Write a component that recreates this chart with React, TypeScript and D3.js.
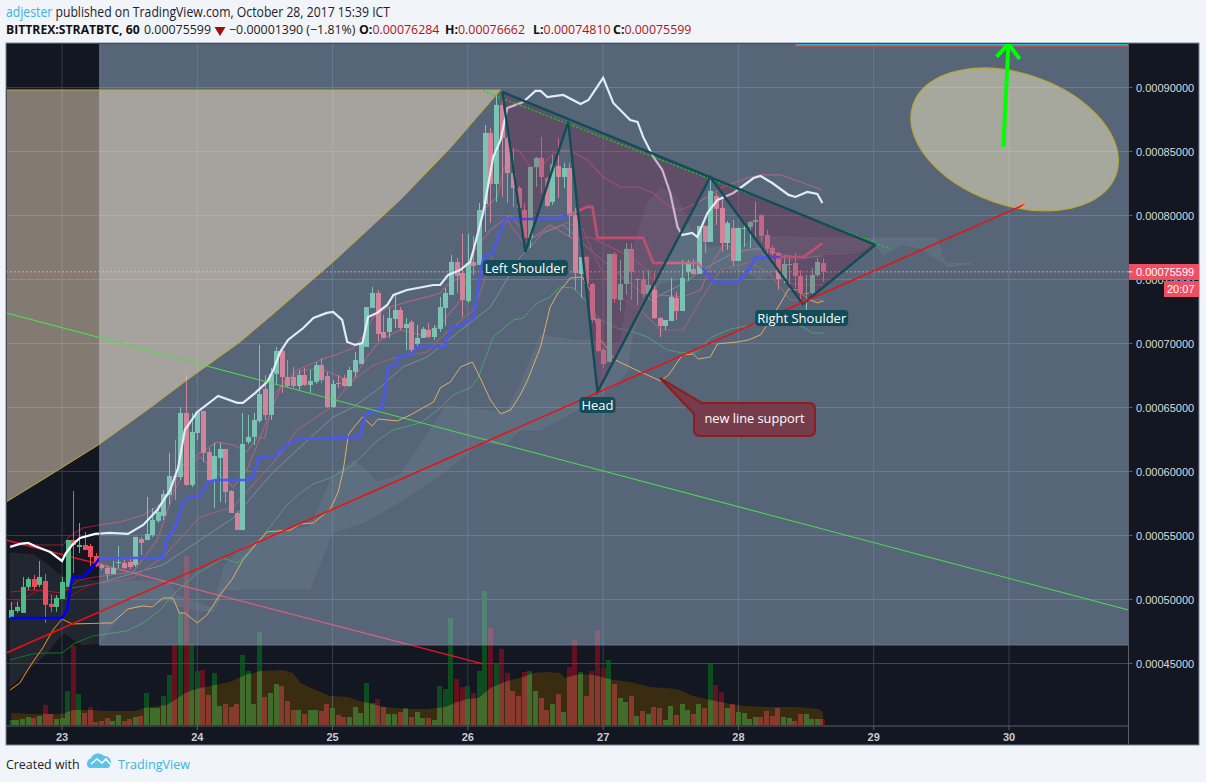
import React from "react";
import * as d3 from "d3";

// Prices are in units of 0.00001 BTC. Hours are counted from the "23" day tick.
const firstHour = -9;
const opens = [
  48.56,49.10,48.95,50.98,51.60,51.14,51.45,49.66,49.42,
  50.04,50.98,54.65,54.10,54.26,54.18,53.40,52.70,52.46,51.99,
  52.86,52.86,52.93,52.70,54.73,54.65,55.04,56.14,56.53,58.16,
  59.65,59.57,64.57,58.95,63.01,64.73,61.53,59.34,61.06,61.76,
  58.48,56.76,55.43,62.31,62.70,63.95,66.45,64.42,67.62,69.42,
  67.38,67.38,66.68,67.54,66.76,67.00,68.32,67.46,65.04,66.92,
  67.31,66.68,67.78,68.40,69.73,72.78,73.95,70.90,70.90,71.92,
  72.62,71.21,71.68,69.97,70.43,71.06,70.51,71.14,72.78,73.79,
  76.37,75.51,73.32,76.37,76.14,80.90,86.45,82.46,88.64,86.06,
  83.32,82.15,80.43,78.25,83.79,84.50,82.93,81.06,83.87,83.01,
  83.71,80.04,75.43,76.76,74.65,71.92,69.50,68.56,77.00,73.40,
  74.65,77.39,74.97,75.04,73.87,74.18,71.99,71.37,71.76,73.56,
  72.54,75.59,75.82,75.43,79.18,77.93,81.53,80.59,77.85,79.03,
  76.45,78.95,79.10,79.50,80.04,78.48,77.46,77.07,75.04,76.14,
  76.29,75.28,73.87,73.95,75.35,76.28,
];
const highs = [
  49.81,49.81,51.76,51.76,51.92,53.01,52.00,50.36,50.36,
  51.76,54.65,58.48,55.98,55.28,54.34,53.63,52.86,52.62,53.01,
  54.18,53.09,53.24,54.89,54.89,58.01,57.15,57.39,58.55,61.45,
  62.46,65.04,67.54,64.57,64.65,64.73,61.84,62.23,62.23,61.76,
  58.55,56.92,64.57,64.42,64.57,69.89,67.54,68.09,69.73,69.65,
  68.71,68.17,67.93,68.09,67.93,68.56,68.87,67.78,67.15,67.54,
  67.54,68.17,69.34,70.04,72.85,74.42,74.18,72.23,72.85,73.95,
  72.85,71.99,71.84,71.45,71.29,71.60,71.45,73.64,74.34,76.92,
  76.68,78.56,78.56,78.40,80.98,87.07,86.85,89.42,89.03,86.29,
  85.28,82.31,80.98,83.79,84.57,86.14,83.01,84.73,86.06,84.10,
  84.10,80.59,76.76,76.84,74.73,71.99,69.65,77.00,77.15,76.53,
  77.85,77.85,75.12,75.74,75.74,75.51,72.07,71.84,75.12,74.03,
  76.53,76.53,76.60,79.18,79.26,82.78,81.76,81.61,79.57,79.65,
  79.03,79.50,79.57,81.06,80.12,78.87,77.70,77.15,76.92,76.84,
  77.07,75.74,75.35,75.90,76.68,76.66,
];
const lows = [
  48.48,48.95,48.95,50.75,50.75,50.98,48.17,49.03,49.03,
  50.04,50.98,52.07,53.63,53.87,52.62,52.54,52.31,51.53,51.99,
  52.46,52.38,52.38,52.54,53.48,54.65,54.89,55.98,56.22,57.39,
  57.78,59.34,58.87,58.79,62.46,60.74,59.18,57.15,57.62,57.54,
  56.76,55.43,55.43,62.15,62.07,63.79,64.03,64.03,66.76,66.14,
  66.53,66.53,66.37,66.68,66.14,66.84,66.92,64.96,64.96,66.53,
  66.61,66.61,67.38,68.40,69.73,72.78,70.20,70.43,70.43,71.21,
  71.06,69.50,69.34,69.73,70.43,70.43,70.28,70.90,71.37,73.79,
  73.95,72.07,73.17,75.35,76.14,78.71,79.42,81.06,81.45,80.98,
  80.67,80.43,78.09,77.46,82.23,81.76,80.67,80.82,81.37,82.15,
  78.32,74.18,73.56,74.57,71.68,69.34,68.09,68.56,73.17,72.54,
  73.79,73.40,73.01,73.56,73.56,71.92,70.51,71.06,71.76,71.84,
  72.54,74.89,75.35,75.43,77.07,77.93,79.26,77.15,77.31,76.06,
  76.45,77.54,77.46,78.09,77.93,76.92,76.14,74.18,74.73,74.57,
  74.34,73.17,72.62,73.87,75.20,74.81,
];
const closes = [
  49.18,49.42,50.98,51.60,50.98,51.76,49.58,49.42,50.12,
  51.37,54.65,54.26,54.26,53.87,53.32,52.62,52.46,51.99,52.46,
  52.93,52.46,52.54,54.89,54.42,55.12,56.22,56.84,58.24,59.65,
  59.57,64.57,58.95,63.09,64.65,61.45,59.34,61.21,61.76,58.40,
  56.76,55.43,62.15,62.70,64.03,66.05,64.42,67.62,69.42,67.38,
  66.68,66.68,67.54,66.76,67.07,68.32,67.15,65.04,66.84,66.84,
  66.68,67.93,68.71,70.04,72.85,73.95,70.75,70.43,71.99,72.62,
  71.21,71.53,69.50,70.43,71.14,70.51,71.21,72.85,73.95,76.37,
  75.28,73.40,76.29,76.06,80.43,86.45,82.46,88.64,86.06,83.32,
  82.15,80.59,78.25,83.79,84.50,83.01,80.75,84.03,83.01,83.71,
  79.96,75.51,76.76,74.65,71.84,69.42,68.40,77.00,73.48,74.65,
  77.39,75.59,75.04,73.87,74.57,71.99,71.37,71.84,73.64,72.54,
  75.12,76.37,75.43,79.18,77.93,81.92,80.51,77.85,79.42,76.45,
  79.03,79.03,79.50,79.65,78.40,77.39,77.00,75.04,76.21,76.21,
  75.28,73.95,73.95,75.35,76.37,75.60,
];
const volumes = [
  5,5,6,8,7,9,20,11,6,
  7,34,79,31,12,18,3,4,7,4,
  10,4,6,8,9,32,17,17,29,50,
  80,112,169,81,54,55,30,52,19,21,
  18,21,70,54,21,93,28,32,41,39,
  24,15,15,11,15,15,14,21,17,10,
  8,8,18,12,42,22,26,18,11,11,
  13,17,8,13,7,7,5,39,36,107,
  46,38,39,32,54,134,97,61,76,52,
  34,29,53,54,34,27,15,21,31,13,
  58,85,53,29,54,95,57,65,41,27,
  23,29,9,14,11,18,17,5,19,10,
  21,15,11,21,17,61,40,33,17,21,
  13,12,6,8,8,14,9,17,8,7,
  4,11,11,6,6,6,
];
type Pt = [number, number];
const volumeAverage: Pt[] = [
  [-9,12],[-5,11],[0,11],[2,15],[5,15],[8,14],[13,14],[14.5,17],[18.6,20],[22.2,33],[24.5,37],[29.8,43],[32.5,50],[35.2,54],
  [39.2,55],[41,52],[42.3,42],[45.8,33],[47.6,29],[50.6,28],[53.4,23],[57.3,18],[61.2,16],[65,16],[68,18],[70.1,23],[71.9,26],
  [73.9,27],[76,37],[79,44],[81.8,48],[83.6,52],[86.1,53],[88.4,52],[89.1,47],[92,51],[94.3,50],[97.8,45],[100.8,43],[104.4,38],
  [109.2,36],[112,29],[115,25],[118.6,21],[120.9,19],[125.7,18],[130.5,18],[134.2,16],[135,13],
];
const whiteLine: Pt[] = [
  [-9.2,54.1],[-7.5,54.34],[-6,54.42],[-4.8,54.18],[-2.1,53.71],[0,53.01],[0.7,53.63],[1.8,54.26],[3.2,54.81],[5.9,55.12],[8.5,55.2],
  [11.7,55.12],[14.4,55.82],[16.9,56.99],[19.2,58.56],[20.6,60.28],[21.8,63.25],[24,64.65],[27.7,65.9],[31.1,65.36],[32.1,65.36],
  [34.3,66.14],[36.4,67],[37.5,67.93],[38.7,69.34],[40.1,70.28],[42.8,71.21],[44.6,71.99],[47,72.39],[48.1,72.46],[49.7,71.84],
  [50.6,70.12],[52,69.89],[53.3,70.04],[54.3,72.07],[55.9,72.39],[57.7,73.01],[58.8,73.79],[61.2,74.18],[65.9,74.57],[67.1,74.57],
  [68.5,75.36],[70.7,75.75],[72.4,76.37],[73,77.31],[74.7,80.2],[76.5,84.57],[77.8,85.9],[79,88.4],[81.8,88.87],[84,89.73],[84.9,89.73],
  [86.1,89.26],[88.9,89.42],[92,88.71],[93.4,89.03],[96,90.75],[97.8,88.79],[100.8,87.46],[102.1,87.31],[103.1,86.14],[104.9,84.57],
  [106.5,83.56],[107.9,81.76],[109.2,79.1],[110,78.48],[111.8,78.64],[112.7,78.32],[114.5,80.2],[116.3,81.22],[119.1,81.76],[122.7,82.93],
  [123.9,83.09],[126,82.54],[128.9,81.61],[130.1,81.45],[132.2,81.84],[134,81.68],[134.9,80.98],
];
const trendBlueA: Pt[] = [
  [-9.2,48.56],[0,48.56],[0.9,49.18],[1.8,51.76],[3.7,51.76],[5.5,52.54],[6.7,53.24],[17.9,53.24],[18.8,54.89],[19.9,55.43],[21.5,57.54],
  [22.7,58.01],[24.5,58.09],[25.9,59.18],[27.2,59.34],[32.8,59.34],[33.9,59.57],[34.8,61.06],[37.8,61.21],[39.9,62.07],[41.7,62.54],
  [52.9,62.7],[53.8,64.42],[56.8,64.96],[57.9,68.17],[59.1,68.25],[59.7,68.95],[62.1,69.18],[63,69.73],[67.8,69.73],[69.1,71.29],
  [70.7,71.37],[73,71.99],[74.4,75.98],[74.9,76.84],[76.2,76.92],[78.6,79.73],[87.9,79.73],[89.7,80.04],
];
const trendRedA: Pt[] = [
  [89.7,80.04],[90.7,80.2],[93.2,80.67],[94.1,80.67],[95,78.25],[103.1,78.25],[104.9,76.29],[112.7,76.29],[113.6,75.9],
];
const trendBlueB: Pt[] = [[113.6,75.9],[115.6,74.81],[120,74.81],[121.8,75.75],[123,76.68],[127.5,76.76]];
const trendRedB: Pt[] = [[127.5,76.76],[131.5,76.76],[133.3,77.31],[134.9,77.85]];
const orangeLine: Pt[] = [
  [-9.2,42.93],[-7.5,43.48],[-5.3,45.04],[-3.4,46.22],[-1.6,47.62],[0,48.48],[1.8,48.09],[8.9,48.17],[11.7,49.26],[14.4,49.5],[16,49.42],
  [17.9,50.12],[19.7,50.12],[20.8,48.95],[21.8,48.95],[24,48.17],[25.7,48.79],[28,50.36],[30.2,51.6],[32.1,53.09],[34.6,54.42],[36.4,55.28],
  [40.5,55.43],[42.3,55.9],[44.6,55.98],[47.6,57.07],[49,58.4],[49.9,60.12],[50.8,62.86],[51.7,63.4],[53.3,64.26],[55,63.56],[56.1,64.1],
  [59.5,63.95],[61.8,64.42],[65.9,65.43],[67.1,66.53],[68.9,67],[70.7,68.17],[72.8,68.56],[74.2,67.31],[76,65.59],[77.8,64.5],[79.6,64.81],
  [81.3,65.98],[82.6,67.15],[84.9,69.73],[86.6,72.85],[88,73.95],[90.2,75.12],[92.3,75.2],[93.7,74.18],[95.2,70.51],[98.2,68.71],[99.6,68.4],
  [102.6,67.78],[106.2,67.07],[107.6,67.54],[110.1,69.11],[112,69.18],[112.9,68.79],[115,68.95],[116.3,69.97],[119.8,70.12],[121.8,70.28],
  [123.9,70.67],[125.3,71.6],[127.5,73.17],[128.9,74.26],[130.5,74.18],[132.3,73.48],[134,73.17],[135.1,73.33],
];
const greenLine: Pt[] = [
  [-9.2,45.28],[-8,45.43],[-5.1,45.75],[-3,45.82],[0,45.82],[2.3,46.6],[5.5,47.15],[11.5,47.54],[14.4,48.17],[17.4,49.18],[19.7,50.36],
  [23.6,51.92],[28.6,53.24],[31.2,52.85],[34.6,54.42],[36.9,55.67],[39.9,57.39],[42.3,58.32],[44.6,59.03],[47.6,59.5],[51.1,60.36],
  [53.4,61.29],[55.6,62.31],[58.8,63.25],[63.6,63.79],[67.1,64.96],[69.4,65.98],[72.4,66.53],[73.9,67.38],[76.5,70.51],[80.1,71.84],
  [81.8,71.99],[84.3,73.17],[86.6,73.64],[88.4,74.42],[90.7,74.34],[92.8,73.4],[95.5,71.84],[98.5,71.21],[100.8,70.98],[103.9,70.51],
  [107.4,69.5],[110,69.26],[112.7,69.34],[115,70.43],[118.6,71.14],[122.7,71.45],[127.5,71.84],[131.5,71.29],[133.1,70.82],[135.1,70.82],
];
const bandUpper: Pt[] = [
  [-9.2,54.26],[0.2,54.26],[1.2,54.89],[3.7,55.59],[6.6,55.82],[10.3,56.06],[14.4,56.6],[16.9,57.23],[19.7,58.56],[20.9,60.28],[24,61.29],
  [27.5,62.31],[30.4,62.07],[32.8,61.53],[34.6,62.62],[36,62.62],[37.5,65.98],[41.7,67.93],[45.8,68.71],[49.4,69.26],[51.7,69.65],[53.8,70.82],
  [55.2,72.07],[57.7,72.78],[61.2,73.25],[64.8,73.64],[67.1,73.95],[68.3,74.57],[71.9,75.51],[74.7,80.43],[77.2,81.45],[78.3,83.56],[79.9,85.12],
  [81,85.12],[83.1,83.79],[84.9,83.79],[87.2,84.89],[89.3,85.12],[90.7,84.96],[93.2,84.34],[96,83.01],[99,82.23],[102.1,82.23],[104.9,81.76],
  [107.9,80.67],[109.7,80.43],[112.7,80.98],[114.5,81.45],[117.3,82.23],[121.6,82.93],[123.9,83.17],[127.5,83.17],[131.5,82.54],[134.9,81.99],
];
const bandMiddle: Pt[] = [
  [-9.2,50.59],[-5.1,50.75],[0.2,50.51],[3,51.53],[6,51.76],[12.6,52.15],[16.9,54.65],[20,58.56],[22.2,60.36],[24.5,61.14],[27.5,59.89],
  [30.4,58.79],[32.8,60.12],[35.1,62.62],[39.2,67],[42.8,67.93],[45.8,68.09],[49.4,67.38],[51.1,66.76],[54.1,68.95],[56.5,70.28],[60,71.06],
  [63.6,70.67],[67.1,71.45],[70.7,73.4],[73.3,77.31],[76,78.87],[79.5,80.04],[83.1,78.09],[86.6,79.26],[91,78.09],[93.7,78.32],[97.3,77.54],
  [100.8,76.76],[103.9,75.75],[105.8,73.79],[110.2,73.64],[113.3,74.18],[115,75.98],[117.3,77.7],[120.4,77.31],[123.4,77.31],[125.7,76.53],
  [128.7,74.73],[131.5,74.57],[134.9,74.57],
];
const bandLower: Pt[] = [
  [-9.2,49.57],[-3.9,50.75],[0.2,49.97],[5,51.14],[12.6,51.68],[17.9,53.32],[24.5,56.45],[30.4,57.23],[35.1,59.57],[38.2,61.06],[41.7,63.25],
  [47.6,64.96],[51.1,66.92],[55.2,68.32],[59.5,68.95],[64.8,69.34],[67.7,70.67],[73,72.62],[75.5,75.51],[77.4,78.64],[79,79.65],[81.8,77.86],
  [86.1,78.87],[89.7,79.42],[92.5,78.87],[95,76.29],[97.8,73.95],[102.6,72.62],[106.2,71.06],[110.2,71.06],[113.3,73.4],[116.8,75.75],
  [122.1,76.37],[125.7,75.35],[129.2,73.4],[134.9,73.4],
];
const greyLine: Pt[] = [
  [0,50.75],[6.7,51.29],[17.9,52.7],[30.4,56.37],[37.5,59.96],[42.3,61.92],[48.1,64.26],[51.7,65.04],[55.9,66.37],[60.5,68.17],[64.8,68.95],
  [70.1,70.82],[76,72.85],[81.3,76.76],[85.4,78.64],[88.9,79.26],[93.7,77.31],[99,75.36],[104.4,73.4],[109.7,74.57],[114.5,75.98],[119.1,77.07],
  [123.4,77.46],[128,76.92],[131.5,76.68],[134.9,76.84],
];
// hour, upper edge, lower edge of the cloud
const cloudEdges: [number, number, number][] = [
  [-9.2,53.63,43.17],[-5.1,53.48,44.89],[-3,52.86,45.67],[0.2,51.76,47.39],[3.7,51.53,46.45],[6.7,51.45,46.6],[11.2,51.45,49.18],[18.6,51.45,49.97],
  [20.4,50.36,49.5],[24,49.73,49.18],[26.8,49.34,49.03],[28.9,52.7,50.75],[32.1,54.1,50.82],[38.7,55.43,50.82],[44,55.67,50.82],[47.9,59.57,55.2],
  [51.7,60.9,55.75],[53.4,60.28,55.98],[55.9,59.18,56.6],[60,59.73,57.62],[68.3,65.2,60.12],[74.2,64.81,62.23],[78.6,64.57,62.07],[81.3,66.76,63.25],
  [84.9,70.67,63.25],[90.7,70.28,64.65],[93.7,70.28,65.36],[99,69.89,67.15],[100.3,73.4,67.93],[101.4,77.54,71.06],[103.9,80.98,73.4],[106.2,82.23,74.73],
  [109.2,81.45,74.96],[112,78.32,75.59],[115,77.46,75.59],[117.3,77.54,75.9],[121.6,77.86,75.51],[123.9,78.32,74.96],[128.7,78.32,76.37],[135.1,78.24,76.92],
  [141.1,78.24,77.07],[144,78.24,77.86],[145.7,78.24,76.92],[148.8,78.24,77.7],[152.3,78.24,77.46],[155.3,78.24,76.53],[156.2,76.76,76.37],[157.1,76.29,75.98],[161.2,76.29,76.21],
];
const beigeCurve: Pt[] = [
  [-9.9,57.62],[-2.1,59.73],[6.7,62.15],[15.6,64.96],[22.2,67.15],[31.6,70.12],[38.7,72.78],[48.5,76.53],[60,81.22],[68.9,85.28],[77.8,89.81],
];
const beigeTop = 89.81;
const shoulders: Pt[] = [[78.1,89.65],[82.2,77.15],[89.8,87.31],[95,66.22],[115,83.01],[131.4,73.09],[144.3,77.7]];
const supportLine: Pt[] = [[-9.9,45.82],[171,80.9]];
const longGreenLine: Pt[] = [[-9.9,72.39],[189.2,49.18]];
const fallingRedLine: Pt[] = [[-9.9,54.65],[74.7,44.97]];
const neckDotted: Pt[] = [[74.7,89.73],[147,77.39]];
const targetEllipse = { hour: 169, price: 85.94, hourRadius: 19.05, priceRadius: 5.14, tilt: 19 };
const upArrow: Pt[] = [[167,85.36],[167.9,93.4]];
const upArrowHead: Pt[] = [[165.8,92.39],[167.9,93.4],[169.9,92.23]];
const overlayBox = { fromHour: 6.7, toHour: 190, top: 93.6, bottom: 46.45 };
const topStrip = { fromHour: 130.1, toHour: 190, top: 93.6, bottom: 93.23 };
const days = [23,24,25,26,27,28,29,30];
const priceTicks = [90,85,80,75,70,65,60,55,50,45];
const lastPrice = 75.599;

const W = 1206, H = 782;
const plot = { left: 6, right: 1128.5, top: 43, bottom: 726, frameRight: 1199, frameBottom: 745 };
const x = d3.scaleLinear().domain([0, 168]).range([62, 1009]);
const y = d3.scaleLinear().domain([90, 45]).range([87.5, 663.5]);
const v = d3.scaleLinear().domain([0, 135]).range([725, 590]);
const path = d3.line<Pt>().x(d => x(d[0])).y(d => y(d[1]));
const volPath = d3.area<Pt>().x(d => x(d[0])).y0(v(0)).y1(d => v(d[1]));
const cloudPath = d3.area<[number, number, number]>().x(d => x(d[0])).y0(d => y(d[2])).y1(d => y(d[1]));
const candles = opens.map((o, i) => ({ hour: firstHour + i, o, h: highs[i], l: lows[i], c: closes[i], vol: volumes[i] }));
const UI = "'Open Sans', 'Noto Sans', sans-serif";
const AXIS = "'Liberation Sans', Arial, sans-serif";
const NAVY = "#124c58";
const fmt = (p: number) => (p * 1e-5).toFixed(8);

function Tag({ cx, cy, w, text }: { cx: number; cy: number; w: number; text: string }) {
  return (
    <g>
      <rect x={cx - w / 2} y={cy - 8} width={w} height={16} rx={4} fill={NAVY} />
      <text x={cx} y={cy + 4.5} textAnchor="middle" fontFamily={UI} fontSize={13} fill="#fff">{text}</text>
    </g>
  );
}

export default function App() {
  const ell = targetEllipse;
  const hs = shoulders;
  const pts = (a: Pt[]) => a.map(d => `${x(d[0])},${y(d[1])}`).join(" ");
  const beigePoly: Pt[] = [[beigeCurve[0][0], beigeTop], ...beigeCurve.slice().reverse()];
  return (
    <svg width={W} height={H} viewBox={`0 0 ${W} ${H}`} style={{ position: "absolute", left: 0, top: 0, background: "#f1f4f8" }}>
      <defs>
        <clipPath id="plotClip"><rect x={plot.left + 1} y={plot.top + 1} width={plot.right - plot.left - 1} height={plot.bottom - plot.top - 1} /></clipPath>
      </defs>

      {/* header */}
      <text x={6} y={17} fontFamily={UI} fontSize={13.6} fill="#1e222d" textLength={384} lengthAdjust="spacingAndGlyphs">
        <tspan fill="#3bb3e4">adjester</tspan><tspan> published on TradingView.com, October 28, 2017 15:39 ICT</tspan>
      </text>
      <text x={6} y={34} fontFamily={UI} fontSize={12.2} fontWeight={700} fill="#111">BITTREX:STRATBTC, 60</text>
      <text x={144} y={34} fontFamily={UI} fontSize={12.4} fill="#222">0.00075599</text>
      <path d="M214.5,27 h11 l-5.5,9 z" fill="#a00d0d" />
      <text x={229} y={34} fontFamily={UI} fontSize={12.4} fill="#222">−0.00001390 (−1.81%)</text>
      {[["O:", "0.00076284", 359], ["H:", "0.00076662", 445], ["L:", "0.00074810", 533], ["C:", "0.00075599", 613]].map(([a, b, px]) => (
        <text key={a as string} x={px as number} y={34} fontFamily={UI} fontSize={12.4}>
          <tspan fontWeight={700} fill="#111">{a}</tspan><tspan fill="#b01515">{b}</tspan>
        </text>
      ))}

      {/* chart frame */}
      <rect x={plot.left} y={plot.top} width={plot.frameRight - plot.left} height={plot.frameBottom - plot.top} fill="#131722" stroke="#758696" strokeWidth={1} />

      <g clipPath="url(#plotClip)">
        {priceTicks.map(p => <line key={p} x1={plot.left} x2={plot.right} y1={y(p)} y2={y(p)} stroke="#363c4e" />)}
        {days.map(d => <line key={d} x1={x((d - 23) * 24)} x2={x((d - 23) * 24)} y1={plot.top} y2={plot.bottom} stroke="#363c4e" />)}

        {/* cloud */}
        <path d={cloudPath(cloudEdges) as string} fill="rgba(100,120,125,0.17)" stroke="rgba(130,40,50,0.25)" strokeWidth={1} />

        {/* volume */}
        {candles.map(c => (
          <rect key={c.hour} x={Math.round(x(c.hour) - 2.5)} y={v(c.vol)} width={5} height={v(0) - v(c.vol)}
            fill={c.c >= c.o ? "#0b4d1e" : "#641020"} />
        ))}
        <path d={volPath(volumeAverage) as string} fill="rgb(58,44,16)" style={{ mixBlendMode: "screen" }} />

        {/* last price and levels underneath the tinted box */}
        <line x1={plot.left} x2={plot.right} y1={y(lastPrice)} y2={y(lastPrice)} stroke="#ef5d7a" strokeDasharray="2 2" />
        <line x1={plot.left} x2={plot.right} y1={y(45)} y2={y(45)} stroke="#c40d14" strokeWidth={1.2} />
        <path d={path(fallingRedLine) as string} stroke="#f0122a" strokeWidth={1.4} fill="none" />

        {/* thin indicators */}
        <path d={path(greyLine) as string} stroke="#5a5a5a" fill="none" />
        <path d={path(bandLower) as string} stroke="#8a1626" strokeWidth={1.1} fill="none" />
        <path d={path(bandMiddle) as string} stroke="#a01a30" strokeWidth={1.1} fill="none" />
        <path d={path(bandUpper) as string} stroke="#a01a30" strokeWidth={1.1} fill="none" />
        <path d={path(greenLine) as string} stroke="#0f7a1c" fill="none" />
        <path d={path(orangeLine) as string} stroke="#ff9800" fill="none" />

        {/* candles */}
        {candles.map(c => {
          const col = c.c >= c.o ? "#53b987" : "#eb4d5c";
          const cx = Math.round(x(c.hour));
          const top = Math.max(c.o, c.c), bot = Math.min(c.o, c.c);
          return (
            <g key={c.hour}>
              <line x1={cx + 0.5} x2={cx + 0.5} y1={y(c.h)} y2={y(c.l)} stroke={col} />
              <rect x={cx - 2} y={y(top)} width={5} height={Math.max(1, y(bot) - y(top))} fill={col} />
            </g>
          );
        })}

        {/* thick indicators */}
        <path d={path(trendBlueA) as string} stroke="#0000f0" strokeWidth={2.6} fill="none" />
        <path d={path(trendRedA) as string} stroke="#e6192f" strokeWidth={2.6} fill="none" />
        <path d={path(trendBlueB) as string} stroke="#0000f0" strokeWidth={2.6} fill="none" />
        <path d={path(trendRedB) as string} stroke="#e6192f" strokeWidth={2.6} fill="none" />
        <path d={path(whiteLine) as string} stroke="#fff" strokeWidth={2.2} fill="none" />

        {/* tinted box */}
        <rect x={x(overlayBox.fromHour)} y={y(overlayBox.top)} width={x(overlayBox.toHour) - x(overlayBox.fromHour)}
          height={y(overlayBox.bottom) - y(overlayBox.top)} fill="rgba(178,209,241,0.42)" stroke="#6b7889" strokeWidth={1} />
        <rect x={x(topStrip.fromHour)} y={y(topStrip.top) - 2} width={x(topStrip.toHour) - x(topStrip.fromHour)}
          height={y(topStrip.bottom) - y(topStrip.top) + 2} fill="#29b3c4" stroke="#e03a3e" strokeWidth={1} />

        {/* beige wedge */}
        <polygon points={pts(beigePoly)} fill="rgba(255,229,200,0.48)" stroke="#b9a92f" strokeWidth={1} />

        {/* head and shoulders */}
        <polygon points={pts([hs[0], hs[1], hs[2]])} fill="rgba(136,0,50,0.22)" />
        <polygon points={pts([hs[2], hs[3], hs[4]])} fill="rgba(136,0,50,0.22)" />
        <polygon points={pts([hs[4], hs[5], hs[6]])} fill="rgba(136,0,50,0.22)" />

        <path d={path(longGreenLine) as string} stroke="#4fdc4f" strokeWidth={1.1} fill="none" />
        <path d={path(neckDotted) as string} stroke="#00e400" strokeWidth={1.2} strokeDasharray="2 2" fill="none" />
        <polyline points={pts(hs)} fill="none" stroke={NAVY} strokeWidth={2.4} />
        <line x1={x(hs[0][0])} y1={y(hs[0][1])} x2={x(hs[6][0])} y2={y(hs[6][1])} stroke={NAVY} strokeWidth={2.4} />

        {/* target ellipse and arrow */}
        <ellipse
          cx={x(ell.hour)} cy={y(ell.price)}
          rx={x(ell.hourRadius) - x(0)} ry={y(90 - ell.priceRadius) - y(90)}
          transform={`rotate(${ell.tilt} ${x(ell.hour)} ${y(ell.price)})`}
          fill="rgba(250,236,196,0.5)" stroke="#b9a92f" strokeWidth={1.2}
        />
        <path d={path(supportLine) as string} stroke="#f01010" strokeWidth={1.5} fill="none" />
        <polyline
          points={`${x(supportLine[1][0]) - 7},${y(supportLine[1][1]) - 3} ${x(supportLine[1][0])},${y(supportLine[1][1])} ${x(supportLine[1][0]) - 5},${y(supportLine[1][1]) + 4}`}
          fill="none" stroke="#ff8d6a" strokeWidth={1.2} />
        <path d={path(upArrow) as string} stroke="#00ff00" strokeWidth={4} fill="none" />
        <polyline points={pts(upArrowHead)} stroke="#00ff00" strokeWidth={4} fill="none" />
      </g>

      {/* plot edges */}
      <line x1={plot.right} x2={plot.right} y1={plot.top} y2={plot.frameBottom} stroke="#5d606b" />
      <line x1={plot.left} x2={plot.right} y1={plot.bottom} y2={plot.bottom} stroke="#5d606b" />

      {/* pattern labels */}
      <Tag cx={x(hs[1][0])} cy={268} w={85} text="Left Shoulder" />
      <Tag cx={x(hs[3][0])} cy={405} w={36} text="Head" />
      <Tag cx={x(hs[5][0]) - 1} cy={318} w={93} text="Right Shoulder" />

      {/* callout */}
      <path
        d={`M660,378 L702,403 H809 Q815,403 815,409 V430 Q815,436 809,436 H700 Q694,436 694,430 V414 Z`}
        fill="#763c4b" stroke="#8e1c1e" strokeWidth={2}
      />
      <text x={754.5} y={423} textAnchor="middle" fontFamily={UI} fontSize={12.8} fill="#fff">new line support</text>

      {/* price axis */}
      {priceTicks.map(p => (
        <g key={p}>
          <line x1={plot.right} x2={plot.right + 4} y1={y(p)} y2={y(p)} stroke="#5d606b" />
          <text x={1136} y={y(p) + 4} fontFamily={AXIS} fontSize={11} fill="#d9dbde">{fmt(p)}</text>
        </g>
      ))}
      <rect x={1129} y={264} width={70} height={16} fill="#ef4f63" />
      <line x1={plot.right} x2={plot.right + 4} y1={y(lastPrice)} y2={y(lastPrice)} stroke="#fff" />
      <text x={1136} y={276} fontFamily={AXIS} fontSize={11} fill="#fff">{fmt(lastPrice)}</text>
      <rect x={1164} y={281} width={35} height={16} fill="#ef4f63" />
      <text x={1167} y={293} fontFamily={AXIS} fontSize={11} fill="#fff">20:07</text>

      {/* time axis */}
      {days.map(d => (
        <g key={d}>
          <line x1={x((d - 23) * 24)} x2={x((d - 23) * 24)} y1={plot.bottom} y2={plot.bottom + 4} stroke="#5d606b" />
          <text x={x((d - 23) * 24)} y={741} textAnchor="middle" fontFamily={AXIS} fontSize={11} fontWeight={700} fill="#c9ccd1">{d}</text>
        </g>
      ))}

      {/* footer */}
      <text x={6} y={769} fontFamily={UI} fontSize={12.4} fill="#1e222d">Created with</text>
      <path d="M88,767 a6,6 0 0 1 3,-9 a8,8 0 0 1 13,-2 a6,6 0 0 1 6,9 a3,3 0 0 1 -3,3 h-16 a3,3 0 0 1 -3,-1 z" fill="#5cc2e8" />
      <path d="M91,764 l6,-5 l5,4 l4,-4 l4,5" fill="none" stroke="#fff" strokeWidth={1.6} />
      <text x={118} y={769} fontFamily={UI} fontSize={12.6} fill="#3bb3e4">TradingView</text>
    </svg>
  );
}
